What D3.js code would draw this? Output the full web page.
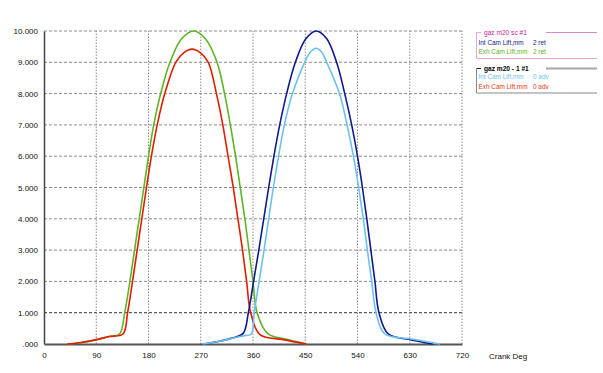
<!DOCTYPE html>
<html>
<head>
<meta charset="utf-8">
<script src="https://cdn.jsdelivr.net/npm/d3@7"></script>
<style>
  html, body { margin: 0; padding: 0; background: #fff; }
  svg { display: block; font-family: "Liberation Sans", Arial, sans-serif; }
</style>
</head>
<body>
<div id="chart"></div>
<script>
// Cam lift vs crank angle – two cam files overlaid
const xTicks = [0, 90, 180, 270, 360, 450, 540, 630, 720];
const yTicks = [0, 1, 2, 3, 4, 5, 6, 7, 8, 9, 10];
const xAxisTitle = "Crank Deg";

// gaz m20 sc #1 – exhaust, 2 ret
const exhScDeg  = [40, 65, 90, 112, 130, 139, 148, 156, 164, 172, 180, 189, 201, 217, 237, 258, 278, 298, 311, 321, 330, 338, 346, 353, 360, 367, 386, 418, 452];
const exhScLift = [0, 0.05, 0.14, 0.24, 0.32, 1, 2, 3, 4, 5, 6, 7, 8, 9, 9.75, 10, 9.75, 9, 8, 7, 6, 5, 4, 3, 2, 1, 0.32, 0.15, 0];

// gaz m20 sc #1 – intake, 2 ret
const intScDeg  = [274, 300, 322, 343, 352, 361, 370, 378.5, 387, 396, 406, 418, 433, 451, 469, 487, 504, 518, 530, 540, 548.5, 556, 563, 570, 577, 593, 633, 670];
const intScLift = [0, 0.08, 0.18, 0.34, 1, 2, 3, 4, 5, 6, 7, 8, 9, 9.75, 10, 9.75, 9, 8, 7, 6, 5, 4, 3, 2, 1, 0.32, 0.13, 0];

// gaz m20 - 1 #1 – intake, 0 adv
const int1Deg  = [274, 300, 322, 343, 357, 362, 370.5, 379, 387, 395, 404, 414, 428, 449, 459, 469, 478, 487, 509, 522, 533, 542, 550, 557, 564.5, 572, 587, 633, 682];
const int1Lift = [0, 0.08, 0.17, 0.26, 0.32, 1, 2, 3, 4, 5, 6, 7, 8, 9, 9.33, 9.45, 9.33, 9, 8, 7, 6, 5, 4, 3, 2, 1, 0.32, 0.16, 0];

// gaz m20 - 1 #1 – exhaust, 0 adv
const exh1Deg  = [40, 65, 90, 112, 136, 144, 152.5, 160.5, 168.5, 176.5, 185, 195, 208, 227, 241, 255, 269, 283, 297, 308, 317, 326, 334, 342, 349, 356, 372, 412, 452];
const exh1Lift = [0, 0.05, 0.14, 0.24, 0.32, 1, 2, 3, 4, 5, 6, 7, 8, 9, 9.31, 9.42, 9.31, 9, 8, 7, 6, 5, 4, 3, 2, 1, 0.3, 0.14, 0];

const legendTitles  = ["gaz m20 sc #1", "gaz m20 - 1 #1"];
const legendNames   = [["Int Cam Lift,mm", "Exh Cam Lift,mm"], ["Int Cam Lift,mm", "Exh Cam Lift,mm"]];
const legendSuffix  = [["2 ret", "2 ret"], ["0 adv", "0 adv"]];

const C = {
  navy: "#111a8c", green: "#5fb424", light: "#6cc2ee", red: "#e01e00",
  magenta: "#c4288e", pink: "#e4a6d6"
};

const series = [
  { deg: exhScDeg, lift: exhScLift, color: C.green },
  { deg: exh1Deg,  lift: exh1Lift,  color: C.red },
  { deg: intScDeg, lift: intScLift, color: C.navy },
  { deg: int1Deg,  lift: int1Lift,  color: C.light }
];

const width = 603, height = 373;
const margin = { top: 31, right: 141, bottom: 29, left: 44 };

const x = d3.scaleLinear().domain([0, 720]).range([margin.left, width - margin.right]);
const y = d3.scaleLinear().domain([0, 10]).range([height - margin.bottom, margin.top]);

const svg = d3.select("#chart").append("svg")
  .attr("width", width).attr("height", height);

// grid horizontal (dashed)
svg.append("g").selectAll("line")
  .data(yTicks.filter(d => d > 0)).join("line")
  .attr("x1", x(0)).attr("x2", x(720))
  .attr("y1", d => y(d)).attr("y2", d => y(d))
  .attr("stroke", d => d === 1 ? "#333" : "#8c8c8c")
  .attr("stroke-width", 1)
  .attr("stroke-dasharray", "3,2");

// grid vertical (dotted)
svg.append("g").selectAll("line")
  .data(xTicks.filter(d => d > 0)).join("line")
  .attr("x1", d => x(d)).attr("x2", d => x(d))
  .attr("y1", y(0)).attr("y2", y(10))
  .attr("stroke", "#8c8c8c")
  .attr("stroke-width", 1)
  .attr("stroke-dasharray", "1.5,1.5");

// axes
const fmtY = d => d3.format(".3f")(d).replace(/^0\./, ".");
svg.append("g")
  .attr("transform", `translate(${margin.left},0)`)
  .call(d3.axisLeft(y).tickValues(yTicks).tickSize(0).tickPadding(6).tickFormat(fmtY))
  .call(g => g.select(".domain").attr("stroke", "#444").attr("stroke-width", 1.5))
  .call(g => g.selectAll("text").attr("font-size", 8).attr("fill", "#111")
    .attr("font-family", "Liberation Sans, Arial, sans-serif"));

svg.append("g")
  .attr("transform", `translate(0,${height - margin.bottom})`)
  .call(d3.axisBottom(x).tickValues(xTicks).tickSize(0).tickPadding(8).tickFormat(d3.format("d")))
  .call(g => g.select(".domain").attr("stroke", "#555").attr("stroke-width", 2))
  .call(g => g.selectAll("text").attr("font-size", 8).attr("fill", "#111")
    .attr("font-family", "Liberation Sans, Arial, sans-serif"));

svg.append("text")
  .attr("x", 489).attr("y", height - margin.bottom + 14.5)
  .attr("font-size", 8).attr("fill", "#111")
  .text(xAxisTitle);

// curves
const line = d3.line()
  .x(d => x(d[0])).y(d => y(d[1]))
  .curve(d3.curveCatmullRom.alpha(0.5));

svg.append("g").selectAll("path")
  .data(series).join("path")
  .attr("d", s => line(s.deg.map((d, i) => [d, s.lift[i]])))
  .attr("fill", "none")
  .attr("stroke", d => d.color)
  .attr("stroke-width", 1.6)
  .attr("stroke-linejoin", "round");

// legend boxes
const boxes = [
  { top: 32.5, bottom: 58.5, off: 12, frame: C.pink, lead: C.pink, rule: "#d888c4", ruleW: 1, title: C.magenta, bold: false,
    colors: [C.navy, C.green] },
  { top: 68.5, bottom: 93, off: 10.8, frame: "#888", lead: "#222", rule: "#a6a6a6", ruleW: 2, title: "#000", bold: true,
    colors: [C.light, "#e03a10"] }
];
const lg = svg.append("g");
boxes.forEach((b, k) => {
  const g = lg.append("g");
  g.append("path")
    .attr("d", `M476.5,${b.top} V${b.bottom} H597`)
    .attr("fill", "none").attr("stroke", b.frame).attr("stroke-width", 1);
  g.append("line").attr("x1", 476.5).attr("x2", 481).attr("y1", b.top).attr("y2", b.top)
    .attr("stroke", b.lead).attr("stroke-width", 1);
  g.append("line").attr("x1", 546).attr("x2", 597).attr("y1", b.top).attr("y2", b.top)
    .attr("stroke", b.rule).attr("stroke-width", b.ruleW);
  g.append("text").attr("x", 484).attr("y", b.top + 2.5)
    .attr("font-size", 6.6).attr("fill", b.title)
    .attr("font-weight", b.bold ? "bold" : "normal")
    .text(legendTitles[k]);
  legendNames[k].forEach((n, i) => {
    const yy = b.top + b.off + i * 9.5;
    g.append("text").attr("x", 478.5).attr("y", yy)
      .attr("font-size", 6.4).attr("fill", b.colors[i]).text(n);
    g.append("text").attr("x", 533).attr("y", yy)
      .attr("font-size", 6.4).attr("fill", b.colors[i]).text(legendSuffix[k][i]);
  });
});
</script>
</body>
</html>
